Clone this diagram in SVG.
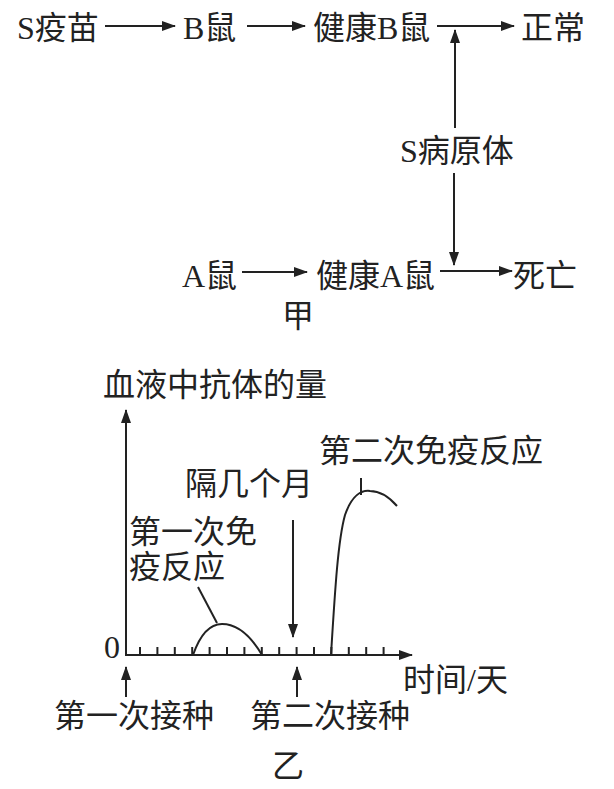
<svg xmlns="http://www.w3.org/2000/svg" width="614" height="789" viewBox="0 0 614 789">
<defs>
<marker id="ah" markerUnits="userSpaceOnUse" markerWidth="14" markerHeight="10" refX="13" refY="5" orient="auto">
<path d="M0,0 L14,5 L0,10 z" fill="#222"/>
</marker>
<style>
text{font-family:"Liberation Serif","Noto Sans CJK SC",serif;font-size:32px;fill:#222}
.ln{stroke:#222;stroke-width:2;fill:none}
.ar{stroke:#222;stroke-width:2;fill:none;marker-end:url(#ah)}
</style>
</defs>
<rect width="614" height="789" fill="#fff"/>
<g id="n_svaccine"><text x="17" y="39">S疫苗</text></g>
<g id="n_bmouse"><text x="183" y="39">B鼠</text></g>
<g id="n_healthyB"><text x="313" y="39">健康B鼠</text></g>
<g id="n_normal"><text x="521" y="39">正常</text></g>
<g id="n_pathogen"><text x="400" y="162">S病原体</text></g>
<g id="n_amouse"><text x="182" y="287">A鼠</text></g>
<g id="n_healthyA"><text x="316" y="287">健康A鼠</text></g>
<g id="n_death"><text x="513" y="287">死亡</text></g>
<g id="lbl_jia"><text x="282" y="327">甲</text></g>
<g id="connectors">
<line class="ar" x1="105" y1="26" x2="175" y2="26"/>
<line class="ar" x1="247" y1="26" x2="305" y2="26"/>
<line class="ar" x1="437" y1="26" x2="514" y2="26"/>
<line class="ar" x1="455" y1="128" x2="455" y2="30"/>
<line class="ar" x1="454" y1="173" x2="454" y2="265"/>
<line class="ar" x1="242" y1="272" x2="307" y2="272"/>
<line class="ar" x1="440" y1="271" x2="512" y2="271"/>
</g>
<g id="chart">
<line class="ar" x1="126" y1="656" x2="126" y2="410"/>
<line class="ar" x1="126" y1="655" x2="412" y2="655"/>
<path class="ln" d="M140,655v-8M157.4,655v-8M174.8,655v-8M192.2,655v-8M209.6,655v-8M227,655v-8M244.4,655v-8M261.8,655v-8M279.2,655v-8M296.6,655v-8M314,655v-8M331.4,655v-8M348.8,655v-8M366.2,655v-8M383.6,655v-8"/>
<path class="ln" d="M193,655 C200,635 210,624 222,624 C238,624 252,638 262,655"/>
<line class="ln" x1="198" y1="587" x2="217" y2="623"/>
<path class="ln" d="M331,655 C335,590 338,540 345,515 C352,495 362,490 370,491 C380,491 390,498 397,506"/>
<line class="ln" x1="361" y1="478" x2="361" y2="495"/>
<line class="ar" x1="293" y1="520" x2="293" y2="637"/>
<line class="ar" x1="126" y1="697" x2="126" y2="667"/>
<line class="ar" x1="297" y1="697" x2="297" y2="667"/>
<text x="103" y="396">血液中抗体的量</text>
<text x="319" y="462">第二次免疫反应</text>
<text x="185" y="495">隔几个月</text>
<text x="129" y="543">第一次免</text>
<text x="129" y="578">疫反应</text>
<text x="104" y="658">0</text>
<text x="403" y="691">时间/天</text>
<text x="54" y="727">第一次接种</text>
<text x="250" y="727">第二次接种</text>
<text x="272" y="777">乙</text>
</g>
</svg>
